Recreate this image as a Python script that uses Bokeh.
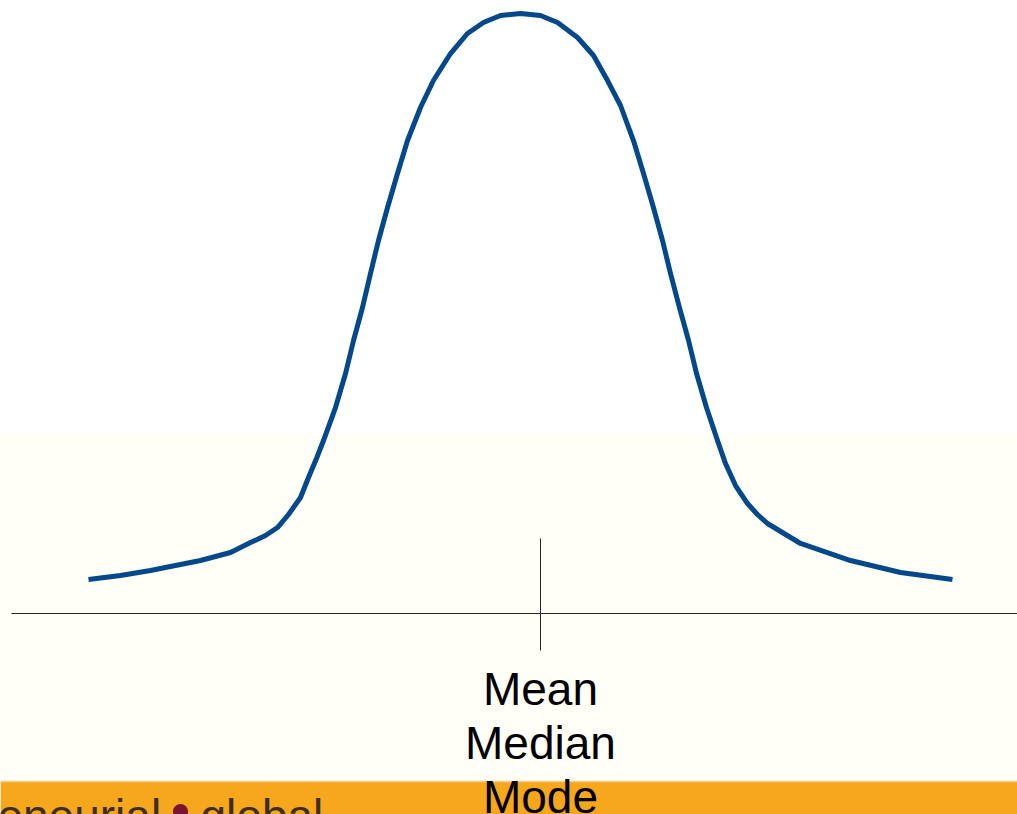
from bokeh.plotting import figure
from bokeh.models import Range1d, ColumnDataSource
from bokeh.core.properties import value
from bokeh.embed import file_html
from bokeh.resources import INLINE

# ---- data (x in standard-deviation-like units, y relative frequency) ----
curve_x = [-4.000, -3.704, -3.426, -2.963, -2.685, -2.500, -2.361, -2.250, -2.148, -2.037,
           -1.963, -1.889, -1.824, -1.713, -1.620, -1.546, -1.463, -1.389, -1.315, -1.231,
           -1.139, -1.046, -0.926, -0.806, -0.648, -0.491, -0.343, -0.185, 0.000,
           0.185, 0.343, 0.528, 0.676, 0.806, 0.926, 1.046, 1.139, 1.231, 1.315,
           1.389, 1.472, 1.556, 1.630, 1.722, 1.824, 1.898, 1.991, 2.102, 2.194,
           2.287, 2.593, 3.056, 3.519, 4.000]
curve_y = [0.0567, 0.0633, 0.0717, 0.0883, 0.1017, 0.1183, 0.1300, 0.1433, 0.1650, 0.1933,
           0.2267, 0.2583, 0.2883, 0.3433, 0.4000, 0.4550, 0.5100, 0.5667, 0.6217, 0.6767,
           0.7333, 0.7883, 0.8433, 0.8883, 0.9333, 0.9667, 0.9850, 0.9967, 1.0000,
           0.9967, 0.9850, 0.9600, 0.9300, 0.8883, 0.8467, 0.7883, 0.7333, 0.6767, 0.6217,
           0.5667, 0.5100, 0.4550, 0.4000, 0.3433, 0.2883, 0.2500, 0.2133, 0.1833, 0.1650,
           0.1500, 0.1167, 0.0883, 0.0683, 0.0567]

mean_x = 0.185
tick_top = 0.125
tick_bottom = -0.0617
labels = ["Mean", "Median", "Mode"]
label_y = [-0.125, -0.215, -0.305]

footer_left = "eneurial"
footer_right = "global"

# ---- view ----
X0, X1 = -4.8148, 4.6019
Y0, Y1 = -0.335, 1.0217

p = figure(width=1017, height=814, output_backend="svg", toolbar_location=None,
           x_range=Range1d(X0, X1), y_range=Range1d(Y0, Y1),
           min_border=0, min_border_left=0, min_border_right=0,
           min_border_top=0, min_border_bottom=0)
p.axis.visible = False
p.grid.visible = False
p.outline_line_color = None
p.background_fill_color = "white"
p.border_fill_color = "white"

# faint cream textured area of the slide
p.quad(left=[X0], right=[X1], top=[0.30], bottom=[-0.28],
       fill_color="#FFFEF7", line_color=None)

# orange footer band
p.quad(left=[X0], right=[X1], top=[-0.28], bottom=[Y0],
       fill_color="#F6A71C", line_color=None)
p.segment(x0=[X0], y0=[-0.28], x1=[X1], y1=[-0.28],
          line_color="#F3D08A", line_width=1.5)

# footer branding text (cut off by the slide edge, as in the original)
p.text(x=[-4.843], y=[-0.337], text=[footer_left], text_font=value("Liberation Sans"),
       text_font_size="46px", text_color="#3C2E26", text_baseline="alphabetic",
       text_align="left")
p.scatter(x=[-3.148], y=[-0.330], size=15, fill_color="#7A1232", line_color=None)
p.text(x=[-2.963], y=[-0.337], text=[footer_right], text_font=value("Liberation Sans"),
       text_font_size="46px", text_color="#3C2E26", text_baseline="alphabetic",
       text_align="left")

# horizontal axis line
p.segment(x0=[-4.713], y0=[0.0], x1=[X1], y1=[0.0], line_color="#222222", line_width=1)

# mean tick
p.segment(x0=[mean_x], y0=[tick_top], x1=[mean_x], y1=[tick_bottom],
          line_color="#222222", line_width=1)

# bell curve
src = ColumnDataSource(dict(x=curve_x, y=curve_y))
p.line("x", "y", source=src, line_color="#03488B", line_width=5,
       line_join="round", line_cap="butt")

# labels
p.text(x=[mean_x] * len(labels), y=label_y, text=labels,
       text_font=value("Liberation Sans"), text_font_size="46px",
       text_color="black", text_align="center", text_baseline="alphabetic")

open("out.html", "w").write(file_html(p, INLINE))
